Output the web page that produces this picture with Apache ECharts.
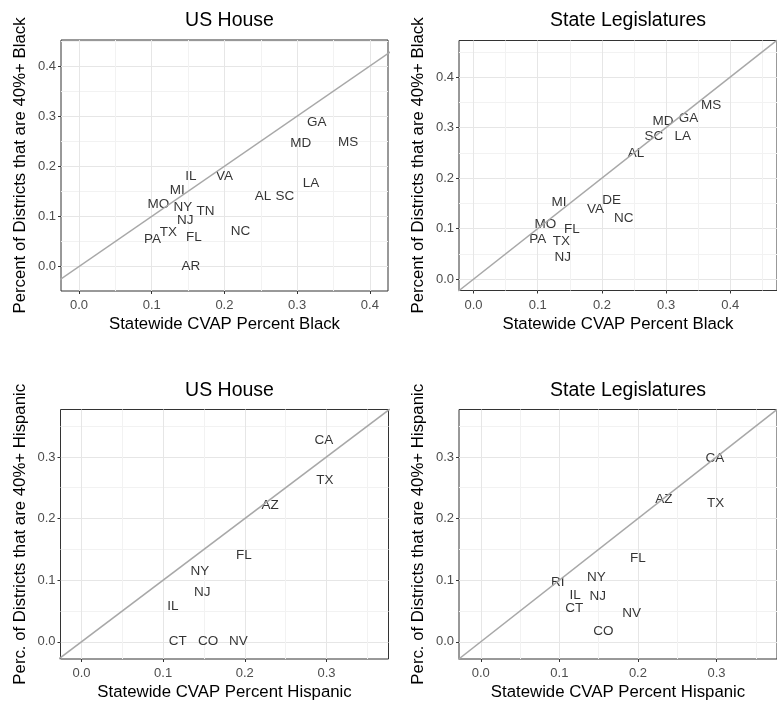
<!DOCTYPE html>
<html><head><meta charset="utf-8">
<script src="https://cdn.jsdelivr.net/npm/echarts@6/dist/echarts.min.js"></script>
<style>html,body{margin:0;padding:0;background:#fff}#c{width:777px;height:702px}</style>
</head><body><div id="c"></div>
<script>
// ---- Data ----
const houseBlackStates = ['GA','MD','MS','LA','AL','SC','IL','VA','MI','MO','NY','TN','NJ','TX','PA','FL','NC','AR'];
const houseBlackCvap   = [0.327,0.305,0.370,0.319,0.253,0.283,0.154,0.200,0.135,0.109,0.143,0.174,0.146,0.123,0.101,0.158,0.222,0.154];
const houseBlackShare  = [0.287,0.245,0.247,0.167,0.141,0.141,0.180,0.180,0.152,0.125,0.119,0.110,0.093,0.069,0.055,0.059,0.071,0.000];

const legBlackStates = ['MS','MD','GA','SC','LA','AL','MI','DE','VA','NC','MO','FL','PA','TX','NJ'];
const legBlackCvap   = [0.370,0.295,0.335,0.281,0.326,0.253,0.133,0.215,0.190,0.234,0.112,0.153,0.100,0.137,0.139];
const legBlackShare  = [0.345,0.313,0.318,0.282,0.282,0.250,0.153,0.156,0.139,0.121,0.109,0.099,0.078,0.074,0.044];

const houseHispStates = ['CA','TX','AZ','FL','NY','NJ','IL','CT','CO','NV'];
const houseHispCvap   = [0.297,0.298,0.231,0.199,0.145,0.148,0.112,0.118,0.155,0.192];
const houseHispShare  = [0.327,0.262,0.221,0.141,0.115,0.081,0.057,0.000,0.000,0.000];

const legHispStates = ['CA','AZ','TX','FL','NY','RI','IL','NJ','CT','NV','CO'];
const legHispCvap   = [0.298,0.233,0.299,0.200,0.147,0.098,0.120,0.149,0.119,0.192,0.156];
const legHispShare  = [0.298,0.232,0.224,0.135,0.104,0.097,0.075,0.073,0.055,0.047,0.017];

const blackTicks = [0, 0.1, 0.2, 0.3, 0.4];
const hispTicks  = [0, 0.1, 0.2, 0.3];
const diagonal   = [-1, 1];   // y = x reference line

const panelTitles = ['US House', 'State Legislatures', 'US House', 'State Legislatures'];
const xTitles = ['Statewide CVAP Percent Black', 'Statewide CVAP Percent Black',
                 'Statewide CVAP Percent Hispanic', 'Statewide CVAP Percent Hispanic'];
const yTitles = ['Percent of Districts that are 40%+ Black', 'Percent of Districts that are 40%+ Black',
                 'Perc. of Districts that are 40%+ Hispanic', 'Perc. of Districts that are 40%+ Hispanic'];

// ---- Layout ----
const panels = [
  {states: houseBlackStates, x: houseBlackCvap, y: houseBlackShare, ticks: blackTicks,
   grid: {left: 61, top: 40, width: 327, height: 251}, xr: [-0.0248, 0.425], yr: [-0.049, 0.452]},
  {states: legBlackStates, x: legBlackCvap, y: legBlackShare, ticks: blackTicks,
   grid: {left: 459, top: 40.5, width: 328, height: 250}, xr: [-0.0227, 0.4728], yr: [-0.0226, 0.4724]},
  {states: houseHispStates, x: houseHispCvap, y: houseHispShare, ticks: hispTicks,
   grid: {left: 60.5, top: 409.5, width: 328, height: 251}, xr: [-0.0257, 0.376], yr: [-0.028, 0.377]},
  {states: legHispStates, x: legHispCvap, y: legHispShare, ticks: hispTicks,
   grid: {left: 459, top: 409.5, width: 328, height: 251}, xr: [-0.0277, 0.377], yr: [-0.028, 0.377]}
];

const FONT = 'Liberation Sans, Arial, sans-serif';
const grids = [], xAxes = [], yAxes = [], series = [], titles = [];

function axisCommon(ticks, range, margin) {
  return {
    type: 'value', min: range[0], max: range[1], splitNumber: 5,
    axisLine: {show: false, onZero: false},
    axisTick: {show: true, length: 3, lineStyle: {color: '#333333'}, customValues: ticks},
    axisLabel: {color: '#4D4D4D', fontSize: 13, fontFamily: FONT, margin: margin,
                customValues: ticks, formatter: v => v.toFixed(1)},
    splitLine: {show: true, lineStyle: {color: '#E6E6E6', width: 1}},
    minorTick: {show: false, splitNumber: 2},
    minorSplitLine: {show: true, lineStyle: {color: '#F2F2F2', width: 1}},
    nameLocation: 'middle',
    nameTextStyle: {color: '#000', fontSize: 16.8, fontFamily: FONT}
  };
}

panels.forEach((p, i) => {
  grids.push(Object.assign({show: true, borderColor: '#333333', borderWidth: 1,
                            backgroundColor: 'transparent', containLabel: false}, p.grid));
  xAxes.push(Object.assign(axisCommon(p.ticks, p.xr, 8), {gridIndex: i, position: 'bottom', name: xTitles[i], nameGap: 25}));
  yAxes.push(Object.assign(axisCommon(p.ticks, p.yr, 5), {gridIndex: i, position: 'left', name: yTitles[i], nameGap: 32}));
  titles.push({
    text: panelTitles[i],
    left: p.grid.left + p.grid.width / 2, textAlign: 'center',
    top: i < 2 ? 6 : 376,
    textStyle: {color: '#000', fontSize: 19.5, fontWeight: 'normal', fontFamily: FONT}
  });
  series.push({
    type: 'line', xAxisIndex: i, yAxisIndex: i,
    data: diagonal.map(v => [v, v]),
    symbol: 'none', clip: true, silent: true,
    lineStyle: {color: '#A8A8A8', width: 1.5}
  });
  series.push({
    type: 'scatter', xAxisIndex: i, yAxisIndex: i,
    data: p.states.map((s, k) => ({name: s, value: [p.x[k], p.y[k]]})),
    symbolSize: 1, itemStyle: {color: 'rgba(0,0,0,0)'},
    label: {show: true, position: 'inside', formatter: '{b}', color: '#000',
            fontSize: 13.5, fontFamily: FONT},
    silent: true
  });
});

const chart = echarts.init(document.getElementById('c'), null, {renderer: 'canvas'});
chart.setOption({
  animation: false,
  backgroundColor: '#fff',
  title: titles, grid: grids, xAxis: xAxes, yAxis: yAxes, series: series
});
</script>
</body></html>
